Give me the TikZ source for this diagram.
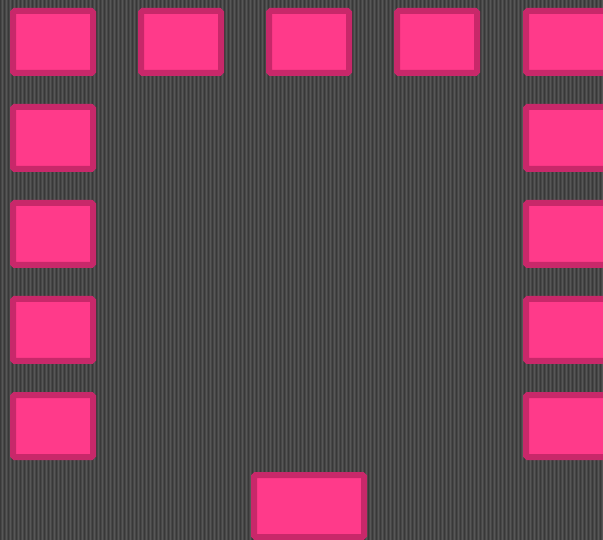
\documentclass[tikz,border=0pt]{standalone}
\usetikzlibrary{positioning}
\definecolor{bgdark}{HTML}{474747}
\definecolor{bgline}{HTML}{383838}
\definecolor{bglight}{HTML}{575757}
\definecolor{pinkfill}{HTML}{FF3A8A}
\definecolor{pinkedge}{HTML}{C8286A}
\tikzset{
  seat/.style={draw=pinkedge, fill=pinkfill, line width=6pt, rounded corners=1.5pt,
    minimum width=80pt, minimum height=62pt, inner sep=0pt, outer sep=0pt},
  wideseat/.style={seat, minimum width=110pt}
}
\begin{document}
\begin{tikzpicture}[x=1pt,y=-1pt]
\useasboundingbox (0,0) rectangle (603,540);
\begin{scope}
\clip (0,0) rectangle (603,540);
\fill[bgdark] (0,0) rectangle (603,540);
\foreach \i in {0,4,...,600} {
  \fill[bgline] (\i,0) rectangle ++(1,540);
  \fill[bglight] (\i+2,0) rectangle ++(1,540);
}
% top row
\node[seat] (t1) at (53,42) {};
\node[seat] (t2) at (181,42) {};
\node[seat] (t3) at (309,42) {};
\node[seat] (t4) at (437,42) {};
\node[seat] (t5) at (566,42) {};
% left column
\node[seat] (l1) at (53,138) {};
\node[seat] (l2) at (53,234) {};
\node[seat] (l3) at (53,330) {};
\node[seat] (l4) at (53,426) {};
% right column
\node[seat] (r1) at (566,138) {};
\node[seat] (r2) at (566,234) {};
\node[seat] (r3) at (566,330) {};
\node[seat] (r4) at (566,426) {};
% bottom
\node[wideseat] (b1) at (309,506) {};
\end{scope}
\end{tikzpicture}
\end{document}
